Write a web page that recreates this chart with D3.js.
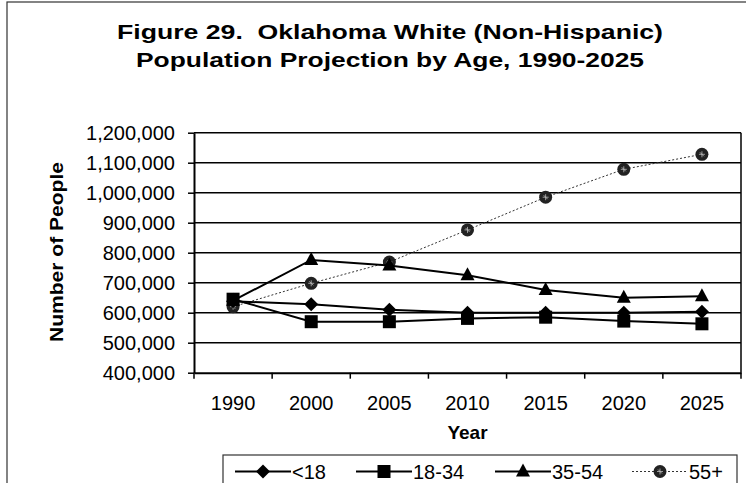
<!DOCTYPE html>
<html>
<head>
<meta charset="utf-8">
<script src="https://cdn.jsdelivr.net/npm/d3@7"></script>
<style>
    body { margin: 0; background: #fff; }
    text { font-family: "Liberation Sans", Arial, sans-serif; fill: #000; }
</style>
</head>
<body>
<svg id="chart" width="746" height="483"></svg>
<script>
// chart data
const years = ["1990", "2000", "2005", "2010", "2015", "2020", "2025"];
const under18 = [638000, 628000, 610000, 600000, 600000, 600000, 603000];
const age18to34 = [645000, 570000, 570000, 581000, 585000, 572000, 563000];
const age35to54 = [640000, 776000, 757000, 725000, 676000, 650000, 655000];
const age55plus = [620000, 698000, 769000, 876000, 985000, 1078000, 1128000];
const yTicks = [400000, 500000, 600000, 700000, 800000, 900000, 1000000, 1100000, 1200000];

const seriesNames = ["<18", "18-34", "35-54", "55+"];
const seriesValues = [under18, age18to34, age35to54, age55plus];

const svg = d3.select("#chart");

const plot = {left: 194, right: 741, top: 132.7, bottom: 372.7};

const x = d3.scaleBand().domain(years).range([plot.left, plot.right]);
const y = d3.scaleLinear().domain([400000, 1200000]).range([plot.bottom, plot.top]);

// outer chart frame
svg.append("rect")
    .attr("x", 7).attr("y", 2)
    .attr("width", 760).attr("height", 500)
    .attr("fill", "none")
    .attr("stroke", "#333")
    .attr("stroke-width", 1.2);

// title
const titleLines = [
    {text: "Figure 29.\u00a0\u00a0Oklahoma White (Non-Hispanic)", y: 39, len: 546},
    {text: "Population Projection by Age, 1990-2025", y: 67, len: 508}
];
svg.selectAll("text.title")
    .data(titleLines)
    .join("text")
    .attr("class", "title")
    .attr("x", 390)
    .attr("y", d => d.y)
    .attr("text-anchor", "middle")
    .attr("font-size", 21)
    .attr("font-weight", "bold")
    .attr("textLength", d => d.len)
    .attr("lengthAdjust", "spacingAndGlyphs")
    .text(d => d.text);

// gridlines
svg.append("g")
    .selectAll("line")
    .data(yTicks.slice(1))
    .join("line")
    .attr("x1", plot.left).attr("x2", plot.right)
    .attr("y1", d => y(d)).attr("y2", d => y(d))
    .attr("stroke", "#000")
    .attr("stroke-width", 1.5);

// plot area frame (right side)
svg.append("line")
    .attr("x1", plot.right).attr("x2", plot.right)
    .attr("y1", plot.top).attr("y2", plot.bottom)
    .attr("stroke", "#000").attr("stroke-width", 1.5);

// y axis
const yAxis = svg.append("g")
    .attr("transform", `translate(${plot.left},0)`)
    .call(d3.axisLeft(y).tickValues(yTicks).tickFormat(d3.format(",")).tickSize(6).tickPadding(13).tickSizeOuter(0));
yAxis.select(".domain").attr("stroke-width", 2);
yAxis.selectAll(".tick line").attr("stroke-width", 1.5);
yAxis.selectAll("text").attr("font-size", 20).attr("dy", "0.36em")
    .attr("font-family", "'Liberation Sans', Arial, sans-serif");

// x axis, labels at band centres, ticks at band edges
const xAxis = svg.append("g")
    .attr("transform", `translate(0,${plot.bottom})`)
    .call(d3.axisBottom(x).tickSize(0).tickPadding(23).tickSizeOuter(0));
xAxis.select(".domain").attr("stroke-width", 2);
xAxis.selectAll("text").attr("font-size", 20)
    .attr("font-family", "'Liberation Sans', Arial, sans-serif");

const edges = years.map(d => x(d)).concat([x(years[years.length - 1]) + x.bandwidth()]);
svg.append("g")
    .selectAll("line")
    .data(edges)
    .join("line")
    .attr("x1", d => d).attr("x2", d => d)
    .attr("y1", plot.bottom).attr("y2", plot.bottom + 6)
    .attr("stroke", "#000").attr("stroke-width", 1.5);

// axis titles
svg.append("text")
    .attr("x", (plot.left + plot.right) / 2)
    .attr("y", 439)
    .attr("text-anchor", "middle")
    .attr("font-size", 19)
    .attr("font-weight", "bold")
    .text("Year");

svg.append("text")
    .attr("transform", "translate(63,252) rotate(-90)")
    .attr("text-anchor", "middle")
    .attr("font-size", 18)
    .attr("font-weight", "bold")
    .attr("textLength", 180)
    .attr("lengthAdjust", "spacingAndGlyphs")
    .text("Number of People");

// marker drawing
function drawMarker(g, kind, cx, cy)
{
    if (kind === 0) {
        g.append("path")
            .attr("d", `M${cx},${cy - 7}L${cx + 7},${cy}L${cx},${cy + 7}L${cx - 7},${cy}Z`)
            .attr("fill", "#000");
    } else if (kind === 1) {
        g.append("rect")
            .attr("x", cx - 6.5).attr("y", cy - 6.5)
            .attr("width", 13).attr("height", 13)
            .attr("fill", "#000");
    } else if (kind === 2) {
        g.append("path")
            .attr("d", `M${cx},${cy - 8}L${cx + 7},${cy + 5}L${cx - 7},${cy + 5}Z`)
            .attr("fill", "#000");
    } else {
        g.append("circle")
            .attr("cx", cx).attr("cy", cy).attr("r", 6.5)
            .attr("fill", "#222");
        g.append("path")
            .attr("d", `M${cx - 3},${cy}L${cx + 3},${cy}M${cx},${cy - 3}L${cx},${cy + 3}M${cx - 2},${cy - 2}L${cx + 2},${cy + 2}`)
            .attr("stroke", "#bbb").attr("stroke-width", 0.8);
    }
}

const lineGen = d3.line()
    .x((d, i) => x(years[i]) + x.bandwidth() / 2)
    .y(d => y(d));

// series lines, drawn back to front
[3, 2, 1, 0].forEach(s => {
    const g = svg.append("g");
    g.append("path")
        .attr("d", lineGen(seriesValues[s]))
        .attr("fill", "none")
        .attr("stroke", s === 3 ? "#333" : "#000")
        .attr("stroke-width", s === 3 ? 1 : 2)
        .attr("stroke-dasharray", s === 3 ? "2,2" : null);
    seriesValues[s].forEach((v, i) => drawMarker(g, s, x(years[i]) + x.bandwidth() / 2, y(v)));
});

// legend
const legendX = [235, 356, 495, 632];
svg.append("rect")
    .attr("x", 223).attr("y", 455)
    .attr("width", 514).attr("height", 40)
    .attr("fill", "#fff")
    .attr("stroke", "#333").attr("stroke-width", 1.2);

seriesNames.forEach((name, s) => {
    const g = svg.append("g");
    const lx = legendX[s];
    const ly = 471.5;
    g.append("line")
        .attr("x1", lx).attr("x2", lx + 56)
        .attr("y1", ly).attr("y2", ly)
        .attr("stroke", s === 3 ? "#333" : "#000")
        .attr("stroke-width", s === 3 ? 1 : 2)
        .attr("stroke-dasharray", s === 3 ? "2,2" : null);
    drawMarker(g, s, lx + 28, ly);
    g.append("text")
        .attr("x", lx + 57)
        .attr("y", ly + 7)
        .attr("font-size", 20)
        .text(name);
});
</script>
</body>
</html>
